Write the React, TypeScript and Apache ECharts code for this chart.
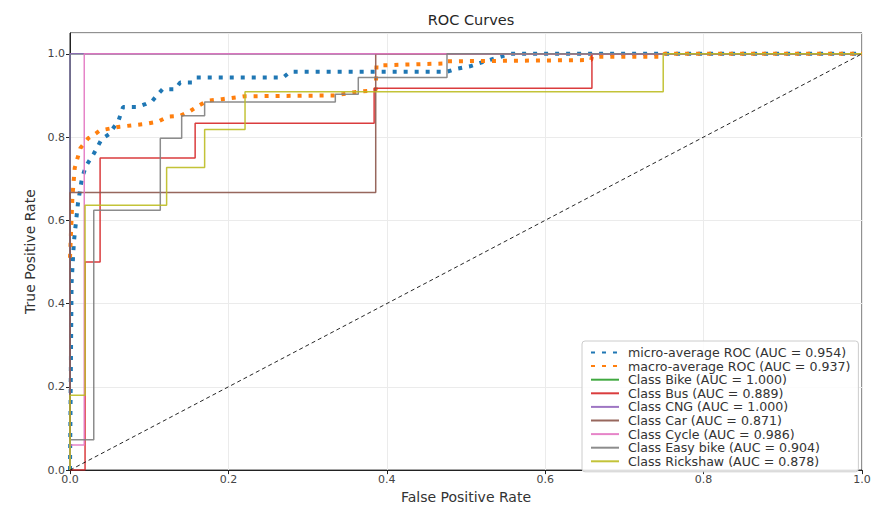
import React, { useEffect, useRef } from "react";
import * as echarts from "echarts";

const seriesNames = [
  "micro-average ROC (AUC = 0.954)",
  "macro-average ROC (AUC = 0.937)",
  "Class Bike (AUC = 1.000)",
  "Class Bus (AUC = 0.889)",
  "Class CNG (AUC = 1.000)",
  "Class Car (AUC = 0.871)",
  "Class Cycle (AUC = 0.986)",
  "Class Easy bike (AUC = 0.904)",
  "Class Rickshaw (AUC = 0.878)",
];

const microFpr = [0, 0.002, 0.005, 0.01, 0.015, 0.02, 0.03, 0.04, 0.05, 0.054, 0.061, 0.067, 0.085, 0.095, 0.104, 0.111, 0.117, 0.133, 0.139, 0.154, 0.16, 0.269, 0.278, 0.476, 0.486, 0.505, 0.521, 0.556, 1];
const microTpr = [0, 0.45, 0.55, 0.64, 0.7, 0.73, 0.76, 0.795, 0.808, 0.82, 0.838, 0.872, 0.872, 0.879, 0.887, 0.903, 0.915, 0.915, 0.931, 0.931, 0.943, 0.943, 0.957, 0.957, 0.963, 0.97, 0.98, 1, 1];

const macroFpr = [0, 0.003, 0.006, 0.013, 0.023, 0.029, 0.038, 0.063, 0.097, 0.111, 0.124, 0.139, 0.152, 0.162, 0.173, 0.192, 0.221, 0.335, 0.36, 0.386, 0.387, 0.476, 0.477, 0.658, 0.659, 0.749, 0.75, 1];
const macroTpr = [0.51, 0.655, 0.726, 0.773, 0.797, 0.804, 0.816, 0.825, 0.832, 0.837, 0.849, 0.851, 0.863, 0.875, 0.887, 0.891, 0.898, 0.9, 0.908, 0.913, 0.972, 0.977, 0.982, 0.985, 0.993, 0.993, 1, 1];

const bikeFpr = [0, 0, 1];
const bikeTpr = [0, 1, 1];

const busFpr = [0, 0.019, 0.019, 0.038, 0.038, 0.158, 0.158, 0.384, 0.384, 0.659, 0.659, 1];
const busTpr = [0, 0, 0.5, 0.5, 0.75, 0.75, 0.833, 0.833, 0.917, 0.917, 1, 1];

const cngFpr = [0, 0, 1];
const cngTpr = [0, 1, 1];

const carFpr = [0, 0, 0.386, 0.386, 1];
const carTpr = [0, 0.667, 0.667, 1, 1];

const cycleFpr = [0, 0, 0.018, 0.018, 1];
const cycleTpr = [0, 0.06, 0.06, 1, 1];

const easyFpr = [0, 0, 0.03, 0.03, 0.114, 0.114, 0.141, 0.141, 0.17, 0.17, 0.335, 0.335, 0.364, 0.364, 0.476, 0.476, 1];
const easyTpr = [0, 0.073, 0.073, 0.624, 0.624, 0.797, 0.797, 0.851, 0.851, 0.884, 0.884, 0.903, 0.903, 0.943, 0.943, 1, 1];

const rickFpr = [0, 0, 0.019, 0.019, 0.122, 0.122, 0.17, 0.17, 0.221, 0.221, 0.749, 0.749, 1];
const rickTpr = [0, 0.18, 0.18, 0.636, 0.636, 0.727, 0.727, 0.818, 0.818, 0.909, 0.909, 1, 1];

const chanceFpr = [0, 1];
const chanceTpr = [0, 1];

const colors = ["#1f77b4", "#ff7f0e", "#2ca02c", "#d62728", "#9467bd", "#8c564b", "#e377c2", "#7f7f7f", "#bcbd22"];

const xTicks = [0, 0.2, 0.4, 0.6, 0.8, 1.0];

const zip = (a: number[], b: number[]) => a.map((v, i) => [v, b[i]]);

const FONT = "DejaVu Sans";

export default function App() {
  const ref = useRef<HTMLDivElement>(null);
  useEffect(() => {
    if (!ref.current) return;
    const chart = echarts.init(ref.current, undefined, { renderer: "svg" });
    const curves = [
      zip(microFpr, microTpr),
      zip(macroFpr, macroTpr),
      zip(bikeFpr, bikeTpr),
      zip(busFpr, busTpr),
      zip(cngFpr, cngTpr),
      zip(carFpr, carTpr),
      zip(cycleFpr, cycleTpr),
      zip(easyFpr, easyTpr),
      zip(rickFpr, rickTpr),
    ];
    const series: any[] = curves.map((d, i) => ({
      name: seriesNames[i],
      type: "line",
      data: d,
      symbol: "none",
      showSymbol: false,
      lineStyle:
        i < 2
          ? { color: colors[i], width: 4, type: [4, 7] }
          : { color: colors[i], width: 1.5, opacity: 0.9 },
      itemStyle: { color: colors[i] },
      z: 2,
    }));
    series.push({
      name: "chance",
      type: "line",
      data: zip(chanceFpr, chanceTpr),
      symbol: "none",
      lineStyle: { color: "#000", width: 1, type: [4, 3], opacity: 0.85 },
      z: 3,
    });
    chart.setOption({
      animation: false,
      backgroundColor: "#fff",
      color: colors,
      title: {
        text: "ROC Curves",
        left: 466,
        textAlign: "center",
        top: 7,
        textStyle: { fontFamily: FONT, fontSize: 14.5, fontWeight: "normal", color: "#262626" },
      },
      grid: { left: 70, right: 13, top: 33, bottom: 35, show: true, borderColor: "#222", borderWidth: 1, backgroundColor: "transparent" },
      xAxis: {
        type: "value",
        min: 0,
        max: 1,
        interval: 0.2,
        name: "False Positive Rate",
        nameLocation: "middle",
        nameGap: 14,
        nameTextStyle: { fontFamily: FONT, fontSize: 14, color: "#333" },
        axisLine: { show: true, lineStyle: { color: "#222" } },
        axisTick: { show: true, inside: false, length: 4, lineStyle: { color: "#222" } },
        axisLabel: {
          fontFamily: FONT,
          fontSize: 11,
          color: "#444",
          margin: 4,
          formatter: (v: number) => (xTicks.some((t) => Math.abs(t - v) < 1e-9) ? v.toFixed(1) : ""),
        },
        splitLine: { show: true, lineStyle: { color: "#ebebeb", width: 1 } },
      },
      yAxis: {
        type: "value",
        min: 0,
        max: 1.05,
        interval: 0.2,
        name: "True Positive Rate",
        nameLocation: "middle",
        nameGap: 33,
        nameTextStyle: { fontFamily: FONT, fontSize: 14, color: "#333" },
        axisLine: { show: true, lineStyle: { color: "#222" } },
        axisTick: { show: true, inside: false, length: 4, lineStyle: { color: "#222" } },
        axisLabel: {
          fontFamily: FONT,
          fontSize: 11,
          color: "#444",
          margin: 5,
          showMaxLabel: false,
          formatter: (v: number) => (v <= 1.0001 ? v.toFixed(1) : ""),
        },
        splitLine: { show: true, lineStyle: { color: "#ebebeb", width: 1 } },
      },
      legend: {
        data: seriesNames,
        orient: "vertical",
        left: 582,
        top: 341,
        padding: [5, 8, 4, 8],
        itemWidth: 28,
        itemHeight: 10,
        itemGap: 0.6,
        backgroundColor: "rgba(255,255,255,0.85)",
        borderColor: "#ccc",
        borderWidth: 1,
        borderRadius: 3,
        selectedMode: false,
        itemStyle: { opacity: 0 },
        textStyle: { fontFamily: FONT, fontSize: 12.6, lineHeight: 12, color: "#333", padding: [0, 0, 0, 4] },
      },
      series,
    });
    return () => chart.dispose();
  }, []);
  return <div ref={ref} style={{ position: "fixed", left: 0, top: 0, width: 875, height: 509 }} />;
}
